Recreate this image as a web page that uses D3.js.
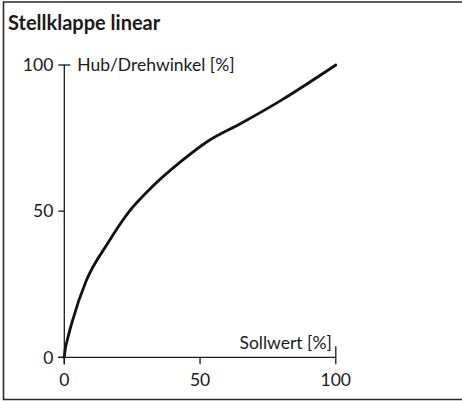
<!DOCTYPE html>
<html>
<head>
<meta charset="utf-8">
<script src="https://cdn.jsdelivr.net/npm/d3@7"></script>
<style>
  html, body { margin: 0; padding: 0; background: #fff; }
  svg { display: block; }
  text { font-family: Lato, "Noto Sans", sans-serif; fill: #1a1a1a; }
</style>
</head>
<body>
<svg id="chart" width="462" height="401"></svg>
<script>
// Characteristic: set point (Sollwert) vs. travel / rotation angle (Hub/Drehwinkel)
const sollwert = [0, 0.3, 1, 3, 8, 16, 24, 32, 43, 53, 65, 80, 100];
const hub      = [0, 2.5, 5.5, 12.5, 26, 39, 50, 58, 67, 74, 80, 88, 100];
const xTicks = [0, 50, 100];
const yTicks = [0, 50, 100];
const title = "Stellklappe linear";
const xLabel = "Sollwert [%]";
const yLabel = "Hub/Drehwinkel [%]";

const svg = d3.select("#chart");

// outer frame (right edge runs off the page)
svg.append("path")
  .attr("d", "M470,2 H3.5 V399.5 H470")
  .attr("fill", "none")
  .attr("stroke", "#2a2a2a")
  .attr("stroke-width", 1.6);

svg.append("text")
  .attr("x", 8).attr("y", 30)
  .attr("font-size", 20).attr("font-weight", 700)
  .text(title);

const x = d3.scaleLinear().domain([0, 100]).range([64.3, 335.8]);
const y = d3.scaleLinear().domain([0, 100]).range([357.3, 65]);

const g = svg.append("g");
const axisStroke = "#1a1a1a";
const fs = 17.5;

// y axis line (extends a little below 0 as the x=0 tick)
g.append("line")
  .attr("x1", x(0)).attr("x2", x(0))
  .attr("y1", y(100)).attr("y2", y(0) + 7)
  .attr("stroke", axisStroke).attr("stroke-width", 1.3);
// x axis line (extends a little left of 0 as the y=0 tick)
g.append("line")
  .attr("x1", x(0) - 6).attr("x2", x(100))
  .attr("y1", y(0)).attr("y2", y(0))
  .attr("stroke", axisStroke).attr("stroke-width", 1.3);

// y ticks
yTicks.forEach(t => {
  const right = t === 100 ? 6 : 0;
  g.append("line")
    .attr("x1", x(0) - 6).attr("x2", x(0) + right)
    .attr("y1", y(t)).attr("y2", y(t))
    .attr("stroke", axisStroke).attr("stroke-width", 1.3);
  g.append("text")
    .attr("x", x(0) - 11).attr("y", y(t))
    .attr("dy", "0.36em")
    .attr("text-anchor", "end")
    .attr("font-size", fs)
    .text(t);
});

// x ticks
xTicks.forEach(t => {
  const up = t === 100 ? 11 : 0;
  g.append("line")
    .attr("x1", x(t)).attr("x2", x(t))
    .attr("y1", y(0) - up).attr("y2", y(0) + 7)
    .attr("stroke", axisStroke).attr("stroke-width", 1.3);
  g.append("text")
    .attr("x", x(t)).attr("y", y(0) + 29)
    .attr("text-anchor", "middle")
    .attr("font-size", fs)
    .text(t);
});

// axis titles
g.append("text")
  .attr("x", x(0) + 13).attr("y", y(100) + 6)
  .attr("font-size", fs)
  .text(yLabel);
g.append("text")
  .attr("x", x(100) - 4).attr("y", y(0) - 8)
  .attr("text-anchor", "end")
  .attr("font-size", fs)
  .text(xLabel);

// characteristic curve
const data = sollwert.map((s, i) => [s, hub[i]]);
g.append("path")
  .datum(data)
  .attr("fill", "none")
  .attr("stroke", "#111")
  .attr("stroke-width", 2.8)
  .attr("stroke-linecap", "round")
  .attr("d", d3.line().x(d => x(d[0])).y(d => y(d[1])).curve(d3.curveMonotoneX));
</script>
</body>
</html>
